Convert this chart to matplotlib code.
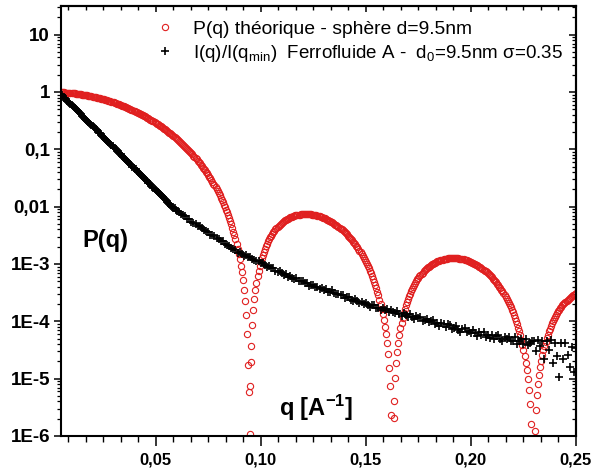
import numpy as np
import matplotlib
matplotlib.use("Agg")
import matplotlib.pyplot as plt
from matplotlib.ticker import FixedLocator, LogLocator, NullFormatter

# --- data (log10 values) ---
# P(q) sphere d=9.5nm, q = 0.005 .. 0.250 step 0.001
logp_sphere = [
    -0.005, -0.007, -0.010, -0.013, -0.016,
    -0.020, -0.024, -0.028, -0.033, -0.039, -0.044, -0.051, -0.057, -0.064, -0.072,
    -0.079, -0.088, -0.096, -0.106, -0.115, -0.125, -0.136, -0.146, -0.158, -0.170,
    -0.182, -0.195, -0.208, -0.222, -0.236, -0.250, -0.266, -0.281, -0.298, -0.315,
    -0.332, -0.350, -0.368, -0.387, -0.407, -0.427, -0.448, -0.469, -0.491, -0.514,
    -0.538, -0.562, -0.587, -0.613, -0.639, -0.666, -0.694, -0.723, -0.753, -0.784,
    -0.816, -0.848, -0.882, -0.917, -0.953, -0.990, -1.029, -1.069, -1.110, -1.153,
    -1.197, -1.244, -1.292, -1.342, -1.394, -1.449, -1.506, -1.566, -1.629, -1.696,
    -1.766, -1.841, -1.921, -2.007, -2.100, -2.200, -2.311, -2.434, -2.572, -2.731,
    -2.918, -3.148, -3.448, -3.888, -4.761, -5.121, -4.056, -3.608, -3.325, -3.121,
    -2.964, -2.837, -2.732, -2.644, -2.568, -2.503, -2.446, -2.397, -2.354, -2.316,
    -2.283, -2.254, -2.228, -2.207, -2.188, -2.172, -2.159, -2.149, -2.141, -2.135,
    -2.131, -2.129, -2.130, -2.132, -2.136, -2.142, -2.150, -2.159, -2.170, -2.184,
    -2.198, -2.215, -2.233, -2.253, -2.275, -2.299, -2.325, -2.352, -2.382, -2.414,
    -2.449, -2.485, -2.524, -2.566, -2.611, -2.659, -2.711, -2.766, -2.825, -2.889,
    -2.958, -3.034, -3.116, -3.207, -3.307, -3.420, -3.549, -3.698, -3.875, -4.095,
    -4.383, -4.807, -5.637, -6.134, -4.997, -4.531, -4.237, -4.024, -3.858, -3.723,
    -3.611, -3.516, -3.434, -3.362, -3.299, -3.243, -3.194, -3.150, -3.111, -3.077,
    -3.045, -3.019, -2.995, -2.974, -2.956, -2.941, -2.928, -2.917, -2.909, -2.903,
    -2.899, -2.897, -2.897, -2.899, -2.903, -2.909, -2.917, -2.926, -2.938, -2.951,
    -2.966, -2.983, -3.002, -3.023, -3.047, -3.072, -3.100, -3.130, -3.162, -3.197,
    -3.235, -3.276, -3.320, -3.368, -3.420, -3.475, -3.536, -3.602, -3.674, -3.753,
    -3.841, -3.939, -4.050, -4.176, -4.324, -4.500, -4.720, -5.013, -5.449, -6.347,
    -6.562, -5.541, -5.092, -4.803, -4.591, -4.425, -4.290, -4.176, -4.079, -3.995,
    -3.922, -3.857, -3.799, -3.747, -3.701, -3.660, -3.623, -3.591, -3.561, -3.535,
    -3.512,
]
# same curve, in-between points, q = 0.0055 .. 0.2495 step 0.001
logp_sphere_mid = [
    -0.006, -0.008, -0.011, -0.014, -0.018,
    -0.022, -0.026, -0.030, -0.036, -0.041, -0.047, -0.054, -0.060, -0.068, -0.075,
    -0.083, -0.092, -0.101, -0.110, -0.120, -0.130, -0.141, -0.152, -0.164, -0.176,
    -0.188, -0.201, -0.215, -0.229, -0.243, -0.258, -0.273, -0.289, -0.306, -0.323,
    -0.341, -0.359, -0.377, -0.397, -0.417, -0.437, -0.458, -0.480, -0.502, -0.526,
    -0.550, -0.574, -0.600, -0.626, -0.652, -0.680, -0.708, -0.738, -0.768, -0.800,
    -0.832, -0.865, -0.899, -0.935, -0.971, -1.009, -1.049, -1.089, -1.131, -1.175,
    -1.220, -1.268, -1.317, -1.368, -1.421, -1.477, -1.536, -1.597, -1.662, -1.730,
    -1.803, -1.880, -1.963, -2.052, -2.149, -2.254, -2.371, -2.501, -2.649, -2.820,
    -3.027, -3.287, -3.643, -4.223, -6.347, -4.429, -3.801, -3.453, -3.216, -3.038,
    -2.897, -2.782, -2.686, -2.605, -2.534, -2.473, -2.421, -2.375, -2.334, -2.299,
    -2.268, -2.240, -2.217, -2.197, -2.180, -2.165, -2.154, -2.145, -2.138, -2.133,
    -2.130, -2.129, -2.131, -2.134, -2.139, -2.146, -2.154, -2.164, -2.177, -2.191,
    -2.206, -2.224, -2.243, -2.264, -2.287, -2.312, -2.338, -2.367, -2.398, -2.431,
    -2.467, -2.504, -2.544, -2.588, -2.634, -2.685, -2.738, -2.795, -2.856, -2.922,
    -2.995, -3.074, -3.160, -3.256, -3.362, -3.482, -3.621, -3.783, -3.979, -4.228,
    -4.570, -5.129, -7.000, -5.388, -4.731, -4.370, -4.123, -3.936, -3.787, -3.665,
    -3.562, -3.474, -3.397, -3.330, -3.270, -3.218, -3.171, -3.130, -3.093, -3.060,
    -3.032, -3.007, -2.984, -2.965, -2.948, -2.934, -2.922, -2.913, -2.906, -2.901,
    -2.898, -2.897, -2.898, -2.901, -2.906, -2.913, -2.921, -2.932, -2.944, -2.958,
    -2.974, -2.992, -3.012, -3.035, -3.059, -3.086, -3.115, -3.146, -3.179, -3.215,
    -3.255, -3.297, -3.343, -3.393, -3.447, -3.505, -3.568, -3.637, -3.713, -3.796,
    -3.889, -3.993, -4.111, -4.247, -4.408, -4.604, -4.855, -5.205, -5.789, -7.000,
    -5.907, -5.286, -4.934, -4.690, -4.504, -4.354, -4.231, -4.126, -4.036, -3.957,
    -3.889, -3.827, -3.772, -3.723, -3.680, -3.641, -3.607, -3.576, -3.548, -3.523,
]
# a few more points at the bottom of the minima
q_sphere_dips = [0.09425, 0.09475, 0.09525, 0.16325]
logp_sphere_dips = [-5.236, -5.958, -4.706, -5.682]

# I(q)/I(qmin) ferrofluide A, q = 0.005 .. 0.0595 step 0.0005
logi_ferro_low = [
    -0.04, -0.06, -0.08, -0.10, -0.11, -0.13, -0.15, -0.17, -0.19, -0.21,
    -0.23, -0.24, -0.26, -0.28, -0.30, -0.32, -0.34, -0.35, -0.37, -0.39,
    -0.41, -0.43, -0.45, -0.47, -0.48, -0.50, -0.52, -0.54, -0.56, -0.58,
    -0.60, -0.61, -0.63, -0.65, -0.67, -0.69, -0.71, -0.72, -0.74, -0.76,
    -0.78, -0.80, -0.82, -0.84, -0.85, -0.87, -0.89, -0.91, -0.93, -0.95,
    -0.97, -0.98, -1.00, -1.02, -1.04, -1.06, -1.08, -1.09, -1.11, -1.13,
    -1.15, -1.17, -1.19, -1.21, -1.22, -1.24, -1.26, -1.28, -1.30, -1.32,
    -1.34, -1.35, -1.37, -1.39, -1.41, -1.43, -1.45, -1.46, -1.48, -1.50,
    -1.52, -1.54, -1.56, -1.58, -1.59, -1.61, -1.63, -1.65, -1.67, -1.69,
    -1.71, -1.72, -1.74, -1.76, -1.78, -1.80, -1.82, -1.83, -1.85, -1.87,
    -1.89, -1.91, -1.93, -1.95, -1.96, -1.98, -2.00, -2.02, -2.03, -2.05,
]
# q = 0.060 .. 0.250 step 0.001
logi_ferro_high = [
    -2.07, -2.09, -2.13, -2.15, -2.17, -2.22, -2.22, -2.26, -2.29, -2.30,
    -2.34, -2.34, -2.38, -2.41, -2.42, -2.45, -2.49, -2.49, -2.52, -2.54,
    -2.57, -2.60, -2.60, -2.65, -2.67, -2.68, -2.72, -2.73, -2.75, -2.80,
    -2.79, -2.82, -2.86, -2.84, -2.87, -2.87, -2.92, -2.93, -2.95, -2.95,
    -2.99, -2.98, -3.02, -3.05, -3.04, -3.07, -3.07, -3.12, -3.14, -3.13,
    -3.16, -3.19, -3.17, -3.23, -3.21, -3.24, -3.27, -3.25, -3.30, -3.30,
    -3.30, -3.34, -3.34, -3.38, -3.36, -3.36, -3.40, -3.40, -3.44, -3.42,
    -3.45, -3.43, -3.48, -3.48, -3.46, -3.51, -3.53, -3.52, -3.54, -3.54,
    -3.59, -3.58, -3.58, -3.62, -3.65, -3.61, -3.65, -3.68, -3.67, -3.70,
    -3.68, -3.72, -3.75, -3.72, -3.71, -3.77, -3.76, -3.80, -3.76, -3.80,
    -3.79, -3.84, -3.80, -3.83, -3.86, -3.82, -3.87, -3.90, -3.86, -3.89,
    -3.92, -3.88, -3.92, -3.96, -3.91, -3.95, -3.92, -3.99, -3.97, -3.96,
    -4.02, -3.99, -3.98, -4.04, -4.03, -4.08, -4.03, -4.05, -4.10, -4.05,
    -4.07, -4.13, -4.11, -4.08, -4.15, -4.18, -4.14, -4.12, -4.18, -4.17,
    -4.21, -4.15, -4.20, -4.25, -4.19, -4.23, -4.19, -4.27, -4.23, -4.29,
    -4.23, -4.31, -4.26, -4.23, -4.31, -4.34, -4.28, -4.31, -4.27, -4.35,
    -4.35, -4.28, -4.40, -4.34, -4.31, -4.39, -4.30, -4.42, -4.37, -4.35,
    -4.34, -4.51, -4.33, -4.43, -4.35, -4.66, -4.35, -4.50, -4.33, -4.73,
    -4.38, -4.60, -4.97, -4.38, -4.66, -4.37, -4.58, -4.80, -4.44, -4.89,
    -4.46,
]

y_ticks = [1e-6, 1e-5, 1e-4, 1e-3, 1e-2, 1e-1, 1, 10]
y_labels = ["1E-6", "1E-5", "1E-4", "1E-3", "0,01", "0,1", "1", "10"]
x_ticks = [0.05, 0.10, 0.15, 0.20, 0.25]
x_labels = ["0,05", "0,10", "0,15", "0,20", "0,25"]

label_sphere = "P(q) théorique - sphère d=9.5nm"
label_ferro = r"I(q)/I(q$_{\mathrm{min}}$)  Ferrofluide A -  d$_0$=9.5nm σ=0.35"

# --- build series ---
q_s = np.concatenate([0.005 + 0.001 * np.arange(len(logp_sphere)),
                      0.0055 + 0.001 * np.arange(len(logp_sphere_mid)),
                      q_sphere_dips])
p_s = 10.0 ** np.concatenate([logp_sphere, logp_sphere_mid, logp_sphere_dips])

q_ferro = np.concatenate([0.005 + 0.0005 * np.arange(len(logi_ferro_low)),
                          0.060 + 0.001 * np.arange(len(logi_ferro_high))])
i_ferro = 10.0 ** np.concatenate([logi_ferro_low, logi_ferro_high])

# --- plot ---
plt.rcParams["font.family"] = ["Liberation Sans", "DejaVu Sans"]
plt.rcParams["mathtext.fontset"] = "custom"
plt.rcParams["mathtext.rm"] = "Liberation Sans"
plt.rcParams["mathtext.it"] = "Liberation Sans:italic"
plt.rcParams["mathtext.bf"] = "Liberation Sans:bold"

fig = plt.figure(figsize=(5.91, 4.75), dpi=100)
ax = fig.add_axes([61 / 591, 39 / 475, 515 / 591, 430 / 475])

ax.plot(q_s, p_s, ls="none", marker="o", ms=4.5, mfc="none", mec="#e02020",
        mew=0.8, label=label_sphere)
ax.plot(q_ferro, i_ferro, ls="none", marker="+", ms=5.5, mec="black", mew=1.2,
        label=label_ferro)

ax.set_yscale("log")
ax.set_xlim(0.005, 0.25)
ax.set_ylim(1e-6, 10 ** 1.5)

ax.set_yticks(y_ticks)
ax.set_yticklabels(y_labels, fontsize=13.5, fontweight="bold")
ax.yaxis.set_minor_locator(LogLocator(base=10, subs=np.arange(2, 10)))
ax.yaxis.set_minor_formatter(NullFormatter())
ax.set_xticks(x_ticks)
ax.set_xticklabels(x_labels, fontsize=12, fontweight="bold")
x_minor = [v for v in np.arange(1, 31) * 0.05 / 6 if abs(v / 0.05 - round(v / 0.05)) > 1e-6]
ax.xaxis.set_minor_locator(FixedLocator(x_minor))

ax.tick_params(axis="x", which="major", direction="out", length=7, width=1.1, pad=5)
ax.tick_params(axis="x", which="minor", direction="out", length=4, width=1.0)
ax.tick_params(axis="y", which="major", direction="out", length=5, width=1.1, pad=3)
ax.tick_params(axis="y", which="minor", direction="out", length=2.8, width=0.9)
for s in ax.spines.values():
    s.set_linewidth(1.5)

# mirrored axes with inward ticks
secx = ax.secondary_xaxis("top")
secx.set_xticks(x_ticks)
secx.xaxis.set_minor_locator(FixedLocator(x_minor))
secx.tick_params(which="major", direction="in", length=4, width=1.1, labeltop=False)
secx.tick_params(which="minor", direction="in", length=3, width=1.0)
secx.spines["top"].set_linewidth(1.5)

secy = ax.secondary_yaxis("right")
secy.set_yticks(y_ticks)
secy.yaxis.set_minor_locator(LogLocator(base=10, subs=np.arange(2, 10)))
secy.yaxis.set_minor_formatter(NullFormatter())
secy.tick_params(which="major", direction="in", length=5, width=1.1, labelright=False)
secy.tick_params(which="minor", direction="in", length=2.8, width=0.9)
secy.spines["right"].set_linewidth(1.5)

leg = ax.legend(loc="upper left", bbox_to_anchor=(0.1738, 0.967), frameon=False,
                fontsize=13.9, handlelength=1.5, handletextpad=0.7, borderpad=0,
                borderaxespad=0, labelspacing=0.28)
leg.get_texts()[1].set_fontsize(13.5)

ax.text(0.0854, 0.4558, "P(q)", transform=ax.transAxes, ha="center",
        va="center", fontsize=17, fontweight="bold")
ax.text(0.4961, 0.0651, r"q [A$^{\mathbf{-1}}$]", transform=ax.transAxes,
        ha="center", va="center", fontsize=17, fontweight="bold")

fig.savefig("out.png", dpi=100)
